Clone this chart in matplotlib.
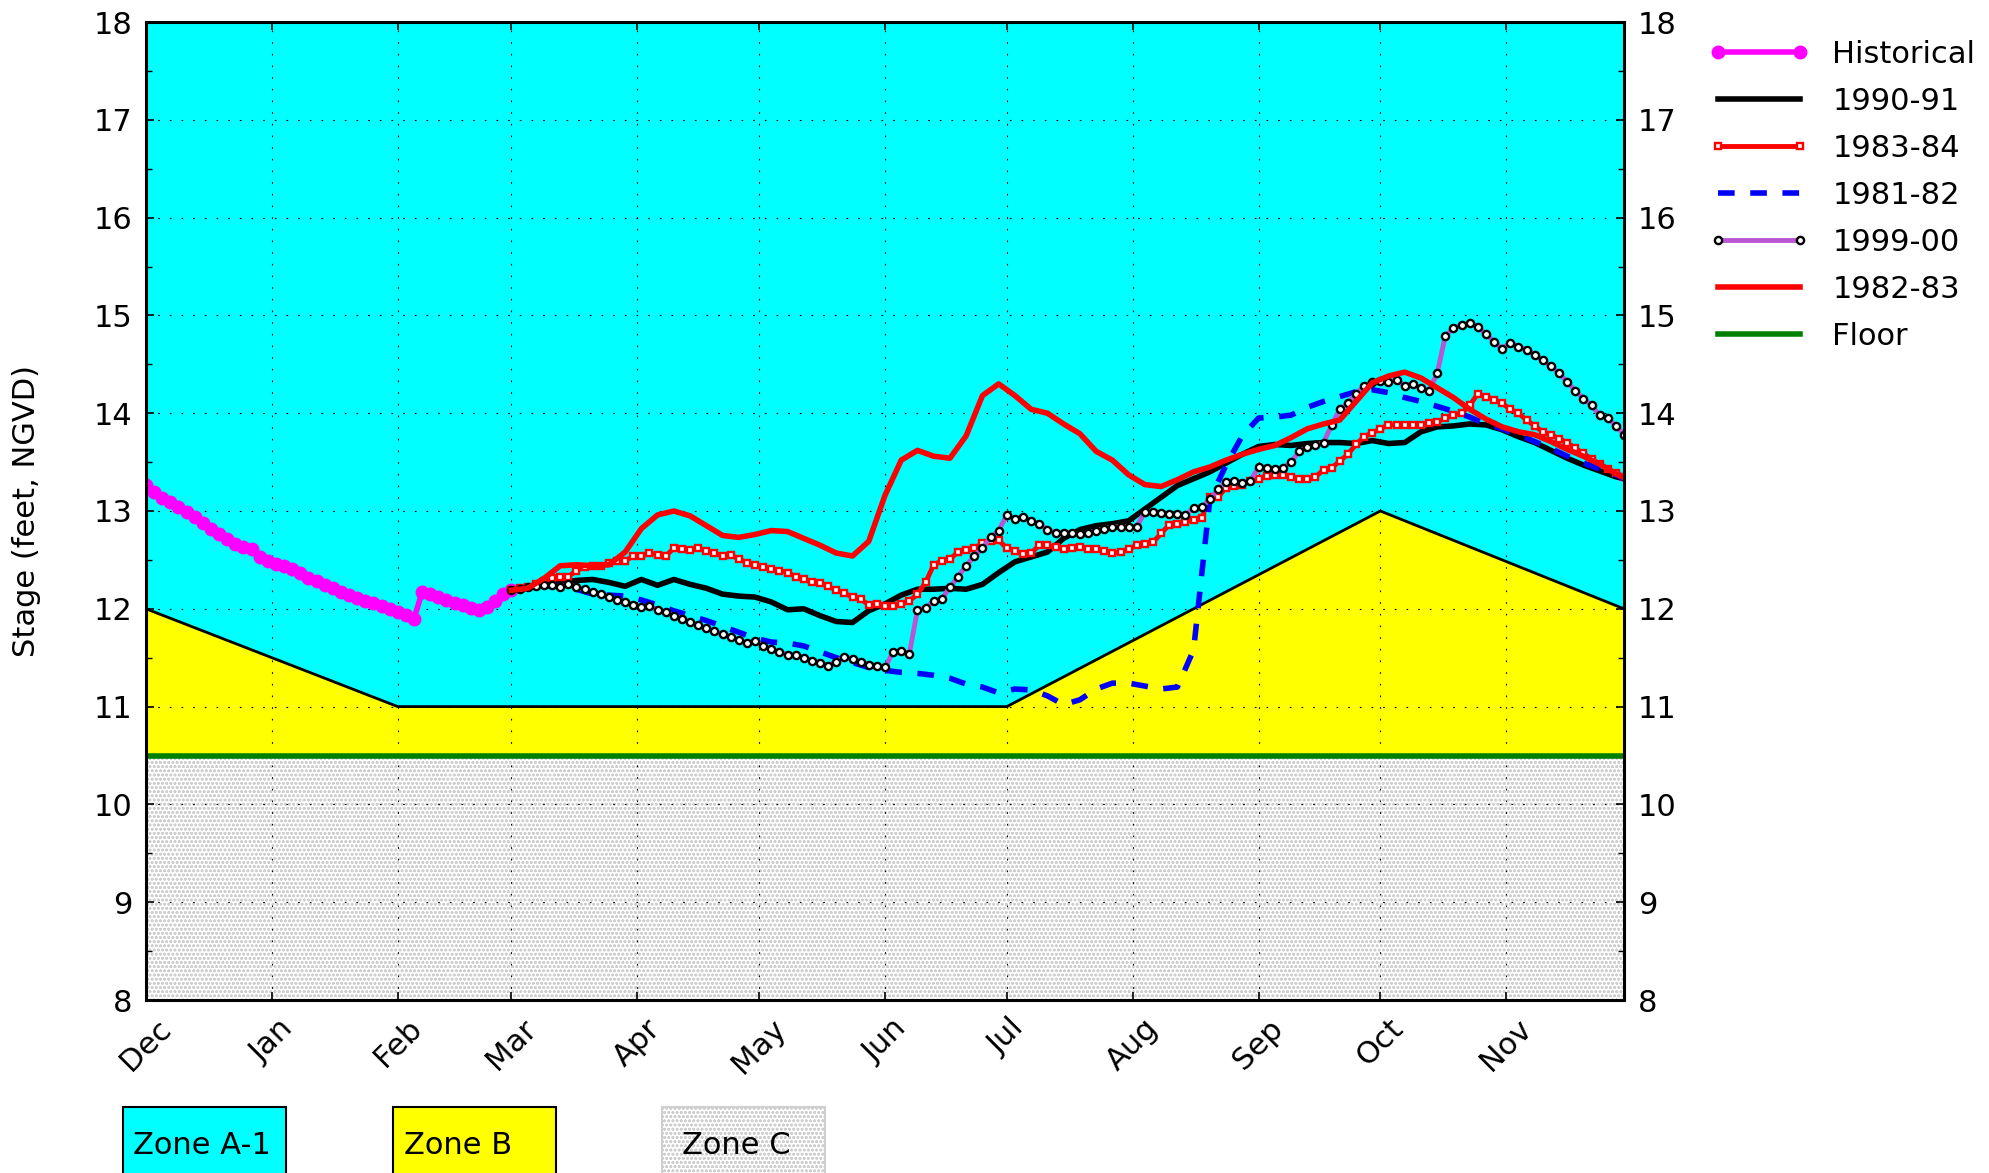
import numpy as np
import matplotlib
matplotlib.use('Agg')
import matplotlib.pyplot as plt
from matplotlib.patches import Rectangle

plt.rcParams.update({
    'font.family': 'DejaVu Sans',
    'font.size': 22,
    'hatch.color': '#cfcfcf',
    'hatch.linewidth': 0.8,
})

# ----------------------------------------------------------------------------
# DATA  (x = days since Dec 1)
# ----------------------------------------------------------------------------
month_days = [0, 31, 62, 90, 121, 151, 182, 212, 243, 274, 304, 335]
month_labels = ['Dec', 'Jan', 'Feb', 'Mar', 'Apr', 'May', 'Jun', 'Jul',
                'Aug', 'Sep', 'Oct', 'Nov']

zone_days = [0, 62, 212, 304, 364]
zone_b_top = [12.0, 11.0, 11.0, 13.0, 12.0]
floor_level = 10.5

historical = [
    13.27, 13.19, 13.13, 13.09, 13.04, 12.99, 12.94, 12.88, 12.82, 12.76,
    12.71, 12.66, 12.63, 12.61, 12.53, 12.49, 12.46, 12.44, 12.41, 12.37,
    12.32, 12.28, 12.24, 12.21, 12.17, 12.14, 12.11, 12.08, 12.06, 12.03,
    12.00, 11.97, 11.94, 11.90, 12.17, 12.15, 12.12, 12.09, 12.06, 12.04,
    12.01, 11.99, 12.02, 12.08, 12.15, 12.19,
]

y1990_91 = [
    12.19, 12.21, 12.25, 12.27, 12.29, 12.30, 12.27, 12.23, 12.30, 12.24,
    12.30, 12.25, 12.21, 12.15, 12.13, 12.12, 12.07, 11.99, 12.00, 11.93,
    11.87, 11.86, 11.98, 12.05, 12.14, 12.20, 12.20, 12.21, 12.20, 12.25,
    12.37, 12.48, 12.53, 12.58, 12.72, 12.81, 12.85, 12.87, 12.90, 13.02,
    13.14, 13.26, 13.33, 13.40, 13.49, 13.58, 13.66, 13.68, 13.67, 13.69,
    13.70, 13.70, 13.69, 13.72, 13.69, 13.70, 13.81, 13.86, 13.87, 13.89,
    13.88, 13.83, 13.76, 13.70, 13.62, 13.54, 13.47, 13.41, 13.35, 13.33,
]

y1983_84 = [
    12.19, 12.21, 12.22, 12.25, 12.28, 12.32, 12.33, 12.33, 12.39, 12.43,
    12.44, 12.44, 12.47, 12.49, 12.49, 12.54, 12.54, 12.57, 12.55, 12.54,
    12.62, 12.61, 12.60, 12.62, 12.59, 12.57, 12.54, 12.55, 12.51, 12.47,
    12.45, 12.43, 12.41, 12.39, 12.37, 12.33, 12.30, 12.27, 12.26, 12.23,
    12.19, 12.16, 12.12, 12.10, 12.04, 12.05, 12.03, 12.03, 12.05, 12.08,
    12.15, 12.27, 12.45, 12.49, 12.51, 12.58, 12.60, 12.62, 12.67, 12.69,
    12.70, 12.62, 12.59, 12.56, 12.57, 12.65, 12.65, 12.63, 12.61, 12.62,
    12.63, 12.61, 12.61, 12.59, 12.57, 12.58, 12.61, 12.65, 12.66, 12.68,
    12.77, 12.86, 12.87, 12.89, 12.91, 12.93, 13.14, 13.14, 13.24, 13.26,
    13.27, 13.31, 13.33, 13.36, 13.37, 13.37, 13.35, 13.33, 13.33, 13.35,
    13.42, 13.44, 13.51, 13.58, 13.68, 13.76, 13.80, 13.84, 13.88, 13.88,
    13.88, 13.88, 13.88, 13.90, 13.91, 13.95, 13.98, 14.00, 14.08, 14.20,
    14.17, 14.14, 14.10, 14.04, 14.00, 13.93, 13.87, 13.81, 13.78, 13.74,
    13.70, 13.64, 13.59, 13.53, 13.48, 13.43, 13.39, 13.35,
]

y1981_82 = [
    12.19, 12.21, 12.23, 12.24, 12.20, 12.15, 12.14, 12.13, 12.09, 12.04,
    11.98, 11.93, 11.88, 11.82, 11.76, 11.70, 11.66, 11.65, 11.62, 11.56,
    11.50, 11.45, 11.40, 11.37, 11.35, 11.34, 11.32, 11.29, 11.23, 11.20,
    11.14, 11.18, 11.17, 11.11, 11.02, 11.07, 11.18, 11.24, 11.24, 11.21,
    11.18, 11.20, 11.58, 13.12, 13.47, 13.77, 13.95, 13.96, 13.98, 14.06,
    14.12, 14.17, 14.22, 14.24, 14.21, 14.16, 14.12, 14.07, 14.02, 13.96,
    13.89, 13.84, 13.78, 13.71, 13.64, 13.56, 13.49, 13.43, 13.37, 13.33,
]

y1999_00 = [
    12.19, 12.20, 12.22, 12.23, 12.24, 12.24, 12.22, 12.25, 12.22, 12.20,
    12.17, 12.15, 12.12, 12.09, 12.07, 12.04, 12.02, 12.03, 11.99, 11.97,
    11.93, 11.90, 11.86, 11.83, 11.80, 11.77, 11.74, 11.71, 11.68, 11.65,
    11.67, 11.62, 11.59, 11.56, 11.53, 11.53, 11.50, 11.47, 11.45, 11.42,
    11.46, 11.51, 11.49, 11.46, 11.43, 11.42, 11.40, 11.56, 11.57, 11.54,
    11.99, 12.01, 12.08, 12.10, 12.22, 12.33, 12.44, 12.54, 12.62, 12.73,
    12.80, 12.96, 12.92, 12.94, 12.90, 12.87, 12.81, 12.78, 12.77, 12.78,
    12.76, 12.77, 12.80, 12.82, 12.84, 12.84, 12.84, 12.84, 12.99, 12.99,
    12.98, 12.97, 12.97, 12.96, 13.03, 13.04, 13.12, 13.22, 13.30, 13.31,
    13.29, 13.31, 13.45, 13.44, 13.43, 13.44, 13.50, 13.61, 13.65, 13.67,
    13.70, 13.88, 14.04, 14.10, 14.20, 14.28, 14.32, 14.33, 14.32, 14.34,
    14.28, 14.30, 14.26, 14.23, 14.41, 14.79, 14.87, 14.90, 14.92, 14.88,
    14.81, 14.73, 14.66, 14.72, 14.68, 14.65, 14.60, 14.54, 14.48, 14.41,
    14.32, 14.23, 14.15, 14.08, 13.98, 13.95, 13.87, 13.78,
]

y1982_83 = [
    12.19, 12.21, 12.31, 12.44, 12.45, 12.44, 12.45, 12.58, 12.82, 12.96,
    13.00, 12.95, 12.85, 12.75, 12.73, 12.76, 12.80, 12.79, 12.72, 12.65,
    12.57, 12.54, 12.69, 13.16, 13.52, 13.62, 13.56, 13.54, 13.77, 14.18,
    14.30, 14.18, 14.04, 14.00, 13.89, 13.79, 13.61, 13.52, 13.37, 13.27,
    13.25, 13.32, 13.40, 13.45, 13.52, 13.58, 13.63, 13.67, 13.75, 13.84,
    13.89, 13.93, 14.12, 14.31, 14.38, 14.42, 14.36, 14.26, 14.16, 14.04,
    13.94, 13.86, 13.81, 13.78, 13.71, 13.63, 13.56, 13.48, 13.38, 13.34,
]

# day grids for the series
days_hist = np.arange(0, 2 * len(historical), 2)
days_2 = np.arange(90, 90 + 2 * len(y1983_84), 2)
days_4 = np.append(np.arange(90, 363, 4), 364)

# ----------------------------------------------------------------------------
# FIGURE
# ----------------------------------------------------------------------------
fig = plt.figure(figsize=(19.9, 11.73), dpi=100)
ax = fig.add_axes([146 / 1990, 1 - 1000 / 1173, 1478 / 1990, 978 / 1173])

x_full = [zone_days[0], zone_days[-1]]
ax.fill_between(x_full, 8, floor_level, facecolor='white',
                edgecolor='#cfcfcf', hatch='oooo', linewidth=0, zorder=0.5)
ax.fill_between(zone_days, floor_level, zone_b_top, facecolor='#ffff00',
                linewidth=0, zorder=0.5)
ax.fill_between(zone_days, zone_b_top, 18, facecolor='#00ffff',
                linewidth=0, zorder=0.5)
ax.plot(zone_days, zone_b_top, color='black', linewidth=2, zorder=1.2)

lines = []
lines += ax.plot(days_hist, historical, color='#ff00ff', linewidth=4,
                 marker='o', markersize=9, markeredgecolor='#ff00ff',
                 label='Historical')
lines += ax.plot(days_4, y1990_91, color='black', linewidth=4,
                 label='1990-91')
lines += ax.plot(days_2, y1983_84, color='red', linewidth=3.5, marker='s',
                 markersize=4.8, markerfacecolor='white',
                 markeredgecolor='red', markeredgewidth=1.7, label='1983-84')
lines += ax.plot(days_4, y1981_82, color='blue', linewidth=4,
                 linestyle=(0, (3.0, 2.8)), label='1981-82')
lines += ax.plot(days_2, y1999_00, color='#ba55d3', linewidth=3.5,
                 marker='o', markersize=5.2, markerfacecolor='white',
                 markeredgecolor='black', markeredgewidth=1.7,
                 label='1999-00')
lines += ax.plot(days_4, y1982_83, color='red', linewidth=4,
                 label='1982-83')
lines += ax.plot(x_full, [floor_level, floor_level], color='green',
                 linewidth=4, label='Floor')

ax.set_xlim(0, 364)
ax.set_ylim(8, 18)
ax.set_xticks(month_days)
ax.set_xticklabels(month_labels, rotation=45)
ax.set_yticks(np.arange(8, 19, 1))
ax.set_yticks(np.arange(8.5, 18, 1), minor=True)

ax.tick_params(which='both', direction='in', top=True, right=True,
               labelright=True, labelsize=22, pad=10)
ax.tick_params(which='major', length=6, width=1.2)
ax.tick_params(which='minor', length=4, width=1.0)
for s in ax.spines.values():
    s.set_linewidth(2.2)

ax.grid(True, which='major', color='black', linestyle=(0, (1.5, 9)),
        linewidth=0.8)

fig.text(27 / 1990, 1 - 511 / 1173, 'Stage (feet, NGVD)', rotation=90,
         ha='center', va='center', fontsize=22)

ax.legend(handles=lines, loc='upper left',
          bbox_to_anchor=(1709 / 1990, 1 - 40 / 1173),
          bbox_transform=fig.transFigure, frameon=False, borderaxespad=0,
          borderpad=0, handlelength=3.27, handletextpad=0.77,
          labelspacing=0.59, numpoints=2, fontsize=22)

# zone key boxes below the chart
zone_boxes = [
    ('Zone A-1', 123, 133, dict(facecolor='#00ffff', edgecolor='black')),
    ('Zone B', 393, 404, dict(facecolor='#ffff00', edgecolor='black')),
    ('Zone C', 662, 682, dict(facecolor='white', edgecolor='#cfcfcf',
                              hatch='oooo')),
]
for label, bx, tx, style in zone_boxes:
    rect = Rectangle((bx / 1990, -0.05), 163 / 1990, 0.05 + 66 / 1173,
                     transform=fig.transFigure, linewidth=1.5,
                     clip_on=False, **style)
    fig.add_artist(rect)
    fig.text(tx / 1990, 1 - 1145 / 1173, label, ha='left', va='center',
             fontsize=22)

fig.savefig('out.png', dpi=100)
